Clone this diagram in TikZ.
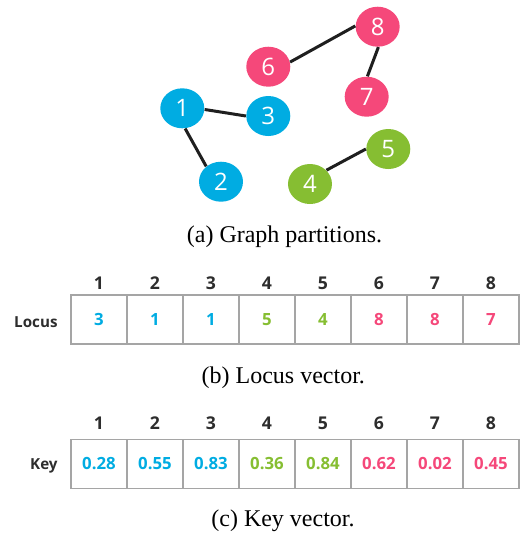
\documentclass[tikz,border=0pt]{standalone}
\usepackage{fontspec}
\setmainfont{Liberation Serif}
\newfontfamily\osans{Open Sans}
\usetikzlibrary{shapes.geometric}
\definecolor{partblue}{RGB}{0,172,226}
\definecolor{partpink}{RGB}{245,72,122}
\definecolor{partgreen}{RGB}{134,190,50}
\definecolor{gridgray}{RGB}{165,165,165}
\definecolor{labelgray}{RGB}{45,45,45}
\begin{document}
\begin{tikzpicture}[x=0.5pt,y=-0.5pt,
  vertex/.style={ellipse, minimum width=22pt, minimum height=20pt, inner sep=0pt,
    text=white, font=\osans\fontsize{12}{12}\selectfont},
  edge/.style={line width=1.5pt, draw=black!88},
  cell/.style={rectangle, draw=gridgray, line width=0.6pt, minimum width=28pt,
    minimum height=24.5pt, inner sep=0pt, text height=6pt, text depth=0pt,
    font=\osans\bfseries\fontsize{8.4}{8.4}\selectfont},
  colhead/.style={anchor=base, text=labelgray, inner sep=0pt, font=\osans\bfseries\fontsize{8.8}{8.8}\selectfont},
  rowhead/.style={anchor=base east, text=labelgray, inner sep=0pt, font=\osans\bfseries\fontsize{7.6}{7.6}\selectfont},
  caption/.style={inner sep=0pt, font=\fontsize{12}{12}\selectfont}]
\useasboundingbox (0,0) rectangle (528,538);

% graph partitions
\node[vertex, fill=partblue]  (n1) at (182.3,108.3) {1};
\node[vertex, fill=partblue]  (n2) at (221,181.7) {2};
\node[vertex, fill=partblue]  (n3) at (268.3,116) {3};
\node[vertex, fill=partgreen] (n4) at (310,184) {4};
\node[vertex, fill=partgreen] (n5) at (388.3,149) {5};
\node[vertex, fill=partpink]  (n6) at (268.3,66.7) {6};
\node[vertex, fill=partpink]  (n7) at (366.7,96.7) {7};
\node[vertex, fill=partpink]  (n8) at (377.7,26.7) {8};

\draw[edge] (n1.-3) -- (n3.180);
\draw[edge] (n1.-82) -- (n2.134);
\draw[edge] (n6.12) -- (n8.178);
\draw[edge] (n8.-88) -- (n7.88);
\draw[edge] (n4.40) -- (n5.180);

\node[caption] (capa) at (284.5,237) {(a) Graph partitions.};

% locus vector
\node[rowhead] (locuslbl) at (58,327) {Locus};
\foreach \i/\v/\c in {1/3/partblue,2/1/partblue,3/1/partblue,4/5/partgreen,
                      5/4/partgreen,6/8/partpink,7/8/partpink,8/7/partpink} {
  \node[colhead] (lh\i) at ({99+56*(\i-1)},289) {\i};
  \node[cell, text=\c] (lc\i) at ({99+56*(\i-1)},319.5) {\v};
}
\node[caption] (capb) at (283.3,378) {(b) Locus vector.};

% key vector
\node[rowhead] (keylbl) at (58,469.5) {Key};
\foreach \i/\v/\c in {1/0.28/partblue,2/0.55/partblue,3/0.83/partblue,4/0.36/partgreen,
                      5/0.84/partgreen,6/0.62/partpink,7/0.02/partpink,8/0.45/partpink} {
  \node[colhead] (kh\i) at ({99+56*(\i-1)},429) {\i};
  \node[cell, text=\c] (kc\i) at ({99+56*(\i-1)},463.8) {\v};
}
\node[caption] (capc) at (283,521) {(c) Key vector.};
\end{tikzpicture}
\end{document}
